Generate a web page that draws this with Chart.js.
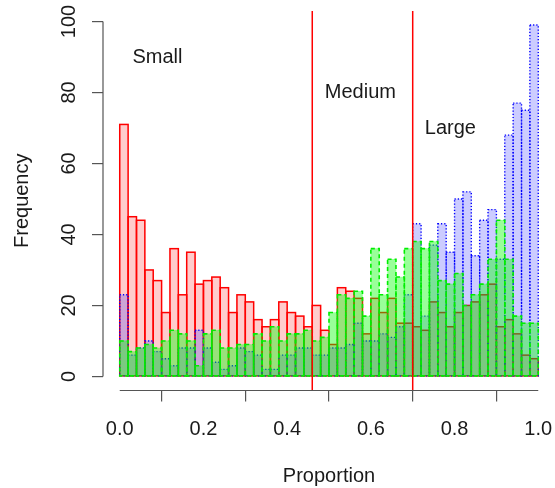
<!DOCTYPE html>
<html>
<head>
<meta charset="utf-8">
<script src="https://cdn.jsdelivr.net/npm/chart.js@4.4.0/dist/chart.umd.min.js"></script>
<style>
  html, body { margin: 0; padding: 0; background: #fff; }
  #wrap { width: 555px; height: 488px; }
</style>
</head>
<body>
<div id="wrap"><canvas id="hist" width="555" height="488"></canvas></div>
<script>
// histogram counts, 50 bins of width 0.02 from 0 to 1
var binWidth = 0.02;
var smallCounts = [71, 45, 44, 30, 27, 18, 36, 23, 35, 26, 27, 28, 25, 18, 23, 21, 16, 14, 16, 21,
                   18, 17, 14, 20, 13, 9, 25, 24, 22, 12, 22, 18, 22, 15, 15, 14, 13, 21, 18, 14,
                   18, 20, 21, 23, 26, 14, 16, 12, 6, 5];
var mediumCounts = [10, 7, 8, 9, 8, 10, 13, 12, 10, 3, 12, 13, 8, 8, 9, 9, 12, 10, 14, 10,
                    12, 12, 13, 10, 11, 18, 23, 22, 24, 17, 36, 23, 33, 28, 36, 38, 36, 38, 27, 26,
                    29, 20, 23, 26, 33, 44, 33, 17, 15, 15];
var largeCounts = [23, 6, 8, 10, 7, 5, 3, 8, 8, 13, 8, 4, 2, 3, 8, 7, 6, 2, 2, 6,
                   6, 8, 8, 6, 6, 8, 8, 9, 15, 10, 10, 12, 11, 14, 23, 43, 17, 37, 43, 35,
                   50, 52, 34, 44, 47, 33, 68, 77, 75, 99];

var xTicks = [0, 0.2, 0.4, 0.6, 0.8, 1.0];
var yTicks = [0, 20, 40, 60, 80, 100];

// cut-off lines and region labels
var cutoffs = [0.46, 0.70];
var regionNames = ['Small', 'Medium', 'Large'];
var regionX = [0.09, 0.575, 0.79];
var regionY = [90, 80, 70];

var textColor = '#1a1a1a';
var axisColor = '#555';
var fontFamily = '"Liberation Sans", Arial, sans-serif';

function toPoints(counts) {
    return counts.map(function (c, i) {
        return { x: i * binWidth + binWidth / 2, y: c };
    });
}

var outlinePlugin = {
    id: 'outlines',
    afterDatasetDraw: function (chart, args) {
        var ds = chart.data.datasets[args.index];
        var ctx = chart.ctx;
        ctx.save();
        ctx.strokeStyle = ds.outlineColor;
        ctx.lineWidth = ds.outlineWidth;
        ctx.setLineDash(ds.outlineDash);
        args.meta.data.forEach(function (bar) {
            var p = bar.getProps(['x', 'y', 'base', 'width'], true);
            ctx.strokeRect(p.x - p.width / 2, p.y, p.width, p.base - p.y);
        });
        ctx.restore();
    },
    afterDatasetsDraw: function (chart) {
        var ctx = chart.ctx;
        var xs = chart.scales.x, ys = chart.scales.y;
        var area = chart.chartArea;
        ctx.save();
        // cut-off lines
        ctx.strokeStyle = '#ff0000';
        ctx.lineWidth = 1.5;
        cutoffs.forEach(function (c) {
            var px = xs.getPixelForValue(c);
            ctx.beginPath();
            ctx.moveTo(px, area.top);
            ctx.lineTo(px, area.bottom);
            ctx.stroke();
        });
        // region labels
        ctx.fillStyle = textColor;
        ctx.font = '20px ' + fontFamily;
        ctx.textAlign = 'center';
        ctx.textBaseline = 'middle';
        regionNames.forEach(function (name, i) {
            ctx.fillText(name, xs.getPixelForValue(regionX[i]), ys.getPixelForValue(regionY[i]));
        });
        // axis lines only over the tick range
        ctx.strokeStyle = axisColor;
        ctx.lineWidth = 1.2;
        ctx.beginPath();
        ctx.moveTo(xs.getPixelForValue(xTicks[0]), area.bottom);
        ctx.lineTo(xs.getPixelForValue(xTicks[xTicks.length - 1]), area.bottom);
        ctx.moveTo(area.left, ys.getPixelForValue(yTicks[0]));
        ctx.lineTo(area.left, ys.getPixelForValue(yTicks[yTicks.length - 1]));
        ctx.stroke();
        ctx.restore();
    }
};

function noPadding(s) {
    s.paddingLeft = 0;
    s.paddingRight = 0;
    s.paddingTop = 0;
    s.paddingBottom = 0;
}

var ctx = document.getElementById('hist');
var chart = new Chart(ctx, {
    type: 'bar',
    data: {
        datasets: [{
            label: 'Medium',
            data: toPoints(mediumCounts),
            backgroundColor: 'rgba(0, 255, 0, 0.4)',
            outlineColor: '#00ee00',
            outlineWidth: 1.6,
            outlineDash: [4, 3]
        }, {
            label: 'Large',
            data: toPoints(largeCounts),
            backgroundColor: 'rgba(0, 0, 255, 0.2)',
            outlineColor: '#0000ff',
            outlineWidth: 1.4,
            outlineDash: [1.2, 2]
        }, {
            label: 'Small',
            data: toPoints(smallCounts),
            backgroundColor: 'rgba(255, 0, 0, 0.2)',
            outlineColor: '#ff0000',
            outlineWidth: 1.5,
            outlineDash: []
        }]
    },
    options: {
        responsive: false,
        animation: false,
        grouped: false,
        barPercentage: 1,
        categoryPercentage: 1,
        borderWidth: 0,
        layout: { padding: { top: 11, right: 0, left: 0, bottom: 0 } },
        plugins: { legend: { display: false }, tooltip: { enabled: false } },
        scales: {
            x: {
                type: 'linear',
                min: -0.04,
                max: 1.04,
                offset: false,
                afterFit: function (s) { s.height = 97.5; noPadding(s); },
                afterBuildTicks: function (s) { s.ticks = xTicks.map(function (v) { return { value: v }; }); },
                grid: { drawOnChartArea: false, tickLength: 11, color: axisColor, lineWidth: 1.2 },
                border: { display: false },
                ticks: {
                    maxRotation: 0, padding: 16, color: textColor,
                    font: { size: 20, family: fontFamily },
                    callback: function (v) { return v.toFixed(1); }
                },
                title: {
                    display: true, text: 'Proportion', color: textColor,
                    font: { size: 20, family: fontFamily }, padding: { top: 0, bottom: 0 }
                }
            },
            y: {
                type: 'linear',
                min: -3.96,
                max: 102.96,
                afterFit: function (s) { s.width = 103; noPadding(s); },
                afterBuildTicks: function (s) { s.ticks = yTicks.map(function (v) { return { value: v }; }); },
                grid: { drawOnChartArea: false, tickLength: 11, color: axisColor, lineWidth: 1.2 },
                border: { display: false },
                ticks: {
                    minRotation: 90, maxRotation: 90, crossAlign: 'center', padding: 6,
                    color: textColor, font: { size: 20, family: fontFamily },
                    callback: function (v) { return String(v); }
                },
                title: {
                    display: true, text: 'Frequency', color: textColor,
                    font: { size: 20, family: fontFamily }, padding: { top: 10, bottom: 0 }
                }
            }
        }
    },
    plugins: [outlinePlugin]
});
</script>
</body>
</html>
